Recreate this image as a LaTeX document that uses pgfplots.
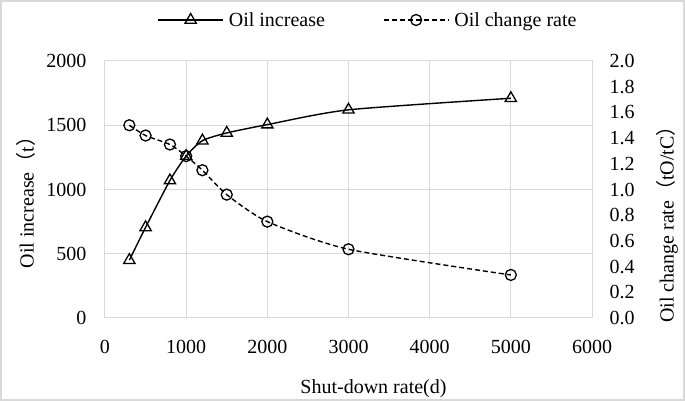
\documentclass[border=0pt]{standalone}
\usepackage{fontspec}
\setmainfont{Liberation Serif}
\newfontfamily\cjk{Noto Sans CJK SC}
\usepackage{pgfplots}
\pgfplotsset{compat=1.18}
\usetikzlibrary{calc}
\definecolor{gridgray}{RGB}{217,217,217}
\newcommand\myfont{\fontsize{20}{24}\selectfont}
\begin{document}
\begin{tikzpicture}
\pgfplotsset{
  base/.style={
    scale only axis, width=487pt, height=257pt,
    xmin=0, xmax=6000, ymin=0,
    /pgf/number format/assume math mode=true,
    tick label style={font=\myfont},
    label style={font=\myfont},
    axis line style={gridgray, line width=1pt},
    major tick length=0pt,
    tick style={draw=none},
    scaled ticks=false,
  },
}
\begin{axis}[base, name=ax,
  ymax=2000, ytick={0,500,...,2000},
  xtick={0,1000,...,6000},
  xticklabel style={/pgf/number format/1000 sep={}, yshift=-19pt},
  yticklabel style={/pgf/number format/1000 sep={}, xshift=-15pt},
  grid=major, major grid style={gridgray, line width=1pt},
  xlabel={Shut-down rate(d)},
  ylabel={Oil increase{\cjk （}t{\cjk ）}},
  xlabel style={yshift=-19pt, xshift=25pt},
  ylabel style={yshift=4pt, xshift=-8pt},
]
\addplot[black, line width=1.4pt, smooth, tension=0.4, mark=triangle, mark size=6.5pt, mark options={solid, line width=1.3pt}]
coordinates {(300,450) (500,705) (800,1070) (1000,1260) (1200,1380) (1500,1440) (2000,1505) (3000,1620) (5000,1710)};
\end{axis}
\begin{axis}[base,
  axis y line*=right, axis x line=none,
  ymax=2.0, ytick={0,0.2,...,2.0},
  yticklabel style={/pgf/number format/.cd, fixed, fixed zerofill, precision=1, /tikz/.cd, xshift=14pt},
  ylabel={Oil change rate{\cjk （}tO/tC{\cjk ）}},
  ylabel style={yshift=-15pt, xshift=-30pt},
  legend style={draw=none, fill=none, legend columns=2, at={(0.54,1.0)}, yshift=41pt, anchor=center,
    /tikz/every odd column/.append style={column sep=3pt},
    /tikz/every even column/.append style={column sep=56pt},
    font=\myfont},
  legend image code/.code={
    \draw[#1] (0pt,0pt) -- (65pt,0pt);
    \draw[#1, solid] plot coordinates {(32.5pt,0pt)};
  },
]
\addlegendimage{black, line width=1.4pt, mark=triangle, mark size=6.5pt, mark options={solid, line width=1.3pt}}
\addlegendentry{Oil increase}
\addplot[black, line width=1.4pt, dashed, dash pattern=on 5pt off 3pt, smooth, tension=0.4, mark=o, mark size=5.5pt, mark options={solid, line width=1.3pt}]
coordinates {(300,1.50) (500,1.42) (800,1.35) (1000,1.26) (1200,1.15) (1500,0.96) (2000,0.75) (3000,0.535) (5000,0.335)};
\addlegendentry{Oil change rate}
\end{axis}
\pgfresetboundingbox
\path ($(ax.south west)+(-105pt,-83pt)$) rectangle ($(ax.south west)+(580pt,318pt)$);
\draw[gridgray, line width=2pt] ($(ax.south west)+(-104pt,-82pt)$) rectangle ($(ax.south west)+(579pt,317pt)$);
\end{tikzpicture}
\end{document}
